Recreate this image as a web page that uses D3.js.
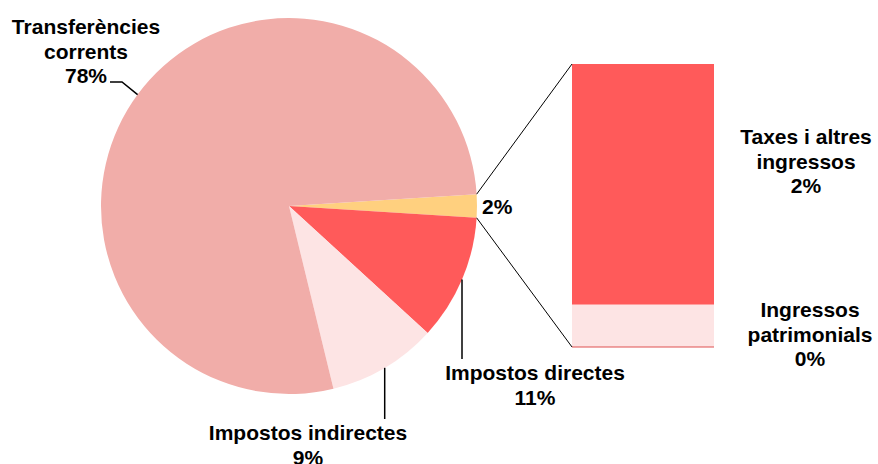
<!DOCTYPE html>
<html>
<head>
<meta charset="utf-8">
<script src="https://cdn.jsdelivr.net/npm/d3@7"></script>
<style>
  body { margin: 0; background: #fff; }
  text { font-family: "Liberation Sans", Arial, sans-serif; font-weight: bold; font-size: 21px; fill: #000; }
</style>
</head>
<body>
<script>
var width = 878,
    height = 464;

// pie slices, clockwise starting with the "other" slice at 3 o'clock
var pieNames = ["Altres", "Impostos directes", "Impostos indirectes", "Transferències corrents"];
var pieValues = [2.0, 10.8, 9.4, 77.8];
var pieColors = ["#FFD07F", "#FF5A5A", "#FDE4E4", "#F1ADA9"];

// breakdown of the "other" slice, bottom to top
var barNames = ["Ingressos patrimonials", "Taxes i altres ingressos"];
var barValues = [0.3, 1.7];
var barColors = ["#FDE4E4", "#FF5A5A"];

var cx = 289, cy = 206, r = 188;

var svg = d3.select("body").append("svg")
    .attr("width", width)
    .attr("height", height);

var total = d3.sum(pieValues);
var otherAngle = pieValues[0] / total * 2 * Math.PI;
var start = Math.PI / 2 - otherAngle / 2;

var pie = d3.pie()
    .sort(null)
    .startAngle(start)
    .endAngle(start + 2 * Math.PI);

var arc = d3.arc().innerRadius(0).outerRadius(r);
var arcs = pie(pieValues);

var g = svg.append("g").attr("transform", "translate(" + cx + "," + cy + ")");

g.selectAll("path")
    .data(arcs)
    .enter().append("path")
      .attr("d", arc)
      .attr("fill", function(d, i) { return pieColors[i]; });

function edge(a, rad) {
  return [cx + rad * Math.sin(a), cy - rad * Math.cos(a)];
}

// bar of the "other" slice
var barX = 572, barW = 142;
var y = d3.scaleLinear().domain([0, d3.sum(barValues)]).range([347, 64]);
var stack = [];
var acc = 0;
barValues.forEach(function(v, i) { stack.push({ y0: acc, y1: acc + v, i: i }); acc += v; });

svg.selectAll("rect.bar")
    .data(stack)
    .enter().append("rect")
      .attr("class", "bar")
      .attr("x", barX)
      .attr("width", barW)
      .attr("y", function(d) { return y(d.y1); })
      .attr("height", function(d) { return y(d.y0) - y(d.y1); })
      .attr("fill", function(d) { return barColors[d.i]; });

svg.append("line")
    .attr("x1", barX).attr("x2", barX + barW)
    .attr("y1", y(0)).attr("y2", y(0))
    .attr("stroke", "#E05050").attr("stroke-width", 1.2);

// connector lines
var pTop = edge(arcs[0].startAngle, r), pBot = edge(arcs[0].endAngle, r);
svg.append("line")
    .attr("x1", pTop[0]).attr("y1", pTop[1])
    .attr("x2", barX).attr("y2", y(d3.sum(barValues)))
    .attr("stroke", "#000").attr("stroke-width", 1);
svg.append("line")
    .attr("x1", pBot[0]).attr("y1", pBot[1])
    .attr("x2", barX).attr("y2", y(0))
    .attr("stroke", "#000").attr("stroke-width", 1);

function pct(v) { return Math.round(v / total * 100) + "%"; }

function label(lines, x, yBase, anchor) {
  var t = svg.append("text").attr("text-anchor", anchor || "middle");
  lines.forEach(function(s, k) {
    t.append("tspan").attr("x", x).attr("y", yBase + k * 24.5).text(s);
  });
}

function mid(d) { return (d.startAngle + d.endAngle) / 2; }

// leader lines
var pDir = edge(mid(arcs[1]), r);
svg.append("line").attr("x1", pDir[0]).attr("y1", pDir[1]).attr("x2", pDir[0]).attr("y2", 359)
    .attr("stroke", "#000").attr("stroke-width", 1.5);
var pInd = edge(mid(arcs[2]), r);
svg.append("line").attr("x1", pInd[0]).attr("y1", pInd[1]).attr("x2", pInd[0]).attr("y2", 419)
    .attr("stroke", "#000").attr("stroke-width", 1.5);
var pTr = edge(mid(arcs[3]), r);
svg.append("polyline")
    .attr("points", [[110, 82], [122, 82], pTr].map(function(p) { return p.join(","); }).join(" "))
    .attr("fill", "none").attr("stroke", "#000").attr("stroke-width", 1.5);

label(["Transferències", "corrents", pct(pieValues[3])], 86, 34);
label([pct(pieValues[0])], 482, 214, "start");
label(["Impostos directes", pct(pieValues[1])], 535, 380);
label(["Impostos indirectes", pct(pieValues[2])], 308, 440);
label(["Taxes i altres", "ingressos", pct(barValues[1])], 806, 144);
label(["Ingressos", "patrimonials", pct(barValues[0])], 810, 317);
</script>
</body>
</html>
